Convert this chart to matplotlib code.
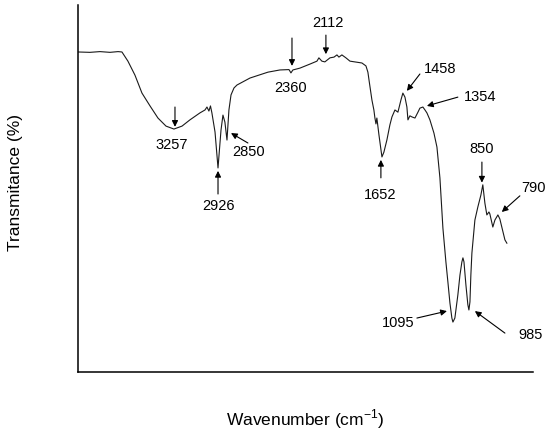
import matplotlib
matplotlib.use('Agg')
from matplotlib import pyplot as plt

# FTIR spectrum
wavenumber = [4000, 3908, 3831, 3754, 3692, 3662, 3616, 3562, 3508, 3446,
              3385, 3323, 3262, 3200, 3139, 3062, 3023, 3008, 2993, 2981,
              2970, 2946, 2923, 2900, 2885, 2870, 2854, 2839, 2823, 2800,
              2777, 2677, 2539, 2447, 2377, 2362, 2347, 2293, 2216, 2162,
              2147, 2124, 2101, 2062, 2031, 2008, 1993, 1970, 1939, 1908,
              1816, 1785, 1770, 1758, 1739, 1724, 1716, 1708, 1701, 1685,
              1662, 1647, 1624, 1601, 1585, 1562, 1539, 1516, 1501, 1485,
              1470, 1462, 1447, 1431, 1408, 1385, 1370, 1347, 1331, 1316,
              1293, 1262, 1239, 1216, 1193, 1170, 1154, 1139, 1124,
              1116, 1101, 1078, 1062, 1047, 1039, 1031, 1016, 1001, 993,
              985, 978, 970, 947, 924, 901, 886, 870, 855, 839,
              832, 816, 809, 793, 770, 755, 740, 716, 701]
transmittance = [87.2, 87.1, 87.3, 87.1, 87.3, 87.2, 84.7, 80.9, 76.0, 72.5,
                 69.2, 67.0, 66.2, 67.0, 68.7, 70.6, 71.4, 72.2, 71.1, 72.5,
                 70.6, 65.4, 55.6, 65.9, 70.0, 68.1, 63.2, 71.4, 75.5, 77.4,
                 78.2, 80.1, 81.7, 82.3, 82.4, 81.5, 82.3, 82.8, 83.9, 84.7,
                 85.6, 84.7, 84.5, 85.6, 85.8, 86.4, 85.8, 86.4, 85.6, 84.7,
                 84.2, 83.4, 81.7, 78.7, 74.1, 71.4, 69.2, 67.6, 69.2, 64.6,
                 58.6, 59.9, 63.2, 67.3, 69.5, 71.4, 70.8, 74.1, 76.0, 74.9,
                 72.2, 68.7, 69.8, 69.5, 69.2, 70.8, 71.9, 72.2, 71.4, 70.6,
                 68.7, 65.1, 61.3, 52.9, 39.2, 30.0, 24.3, 18.8, 14.7,
                 13.6, 14.7, 21.0, 26.4, 30.0, 31.1, 30.0, 23.7, 18.3, 16.9,
                 19.1, 26.4, 32.4, 41.4, 45.0, 48.2, 51.0, 46.0, 42.8, 43.6,
                 43.1, 40.6, 39.5, 41.4, 42.8, 41.7, 39.5, 36.0, 35.1]

# peak labels: text, text position, arrow tail, arrow tip (data units)
peak_labels = ['3257', '2926', '2850', '2360', '2112', '1652',
               '1458', '1354', '1095', '985', '850', '790']
label_pos = [(3277, 61.9), (2923, 45.2), (2690, 60.0), (2362, 77.5),
             (2078, 95.1), (1677, 48.2), (1216, 82.6), (908, 74.9),
             (1539, 13.4), (520, 10.1), (893, 60.8), (500, 50.1)]
arrow_tail = [(3254, 72.2), (2923, 48.5), (2693, 62.4), (2354, 91.0),
              (2093, 91.8), (1670, 52.9), (1370, 81.2), (1078, 74.9),
              (1393, 14.7), (716, 10.6), (893, 57.2), (601, 48.0)]
arrow_tip = [(3254, 66.8), (2923, 54.8), (2823, 65.1), (2354, 83.4),
             (2093, 86.6), (1670, 57.8), (1470, 76.6), (1316, 72.5),
             (1162, 16.6), (947, 16.6), (893, 51.6), (740, 43.6)]


def draw_labels(ax: plt.Axes) -> None:
    for text, pos, tail, tip in zip(peak_labels, label_pos, arrow_tail, arrow_tip):
        ax.annotate('', xy=tip, xytext=tail,
                    arrowprops=dict(arrowstyle='-|>', color='black', lw=0.8,
                                    mutation_scale=9, shrinkA=0, shrinkB=0))
        ax.text(pos[0], pos[1], text, ha='center', va='center', fontsize=10.5)


def main() -> None:
    plt.rcParams['font.family'] = ['Liberation Sans', 'DejaVu Sans']
    plt.rcParams['mathtext.fontset'] = 'custom'
    plt.rcParams['mathtext.rm'] = 'Liberation Sans'
    fig = plt.figure(figsize=(5.5, 4.36), dpi=100)
    ax = fig.add_axes([78 / 550, 1 - 372 / 436, 455 / 550, 367 / 436])
    ax.plot(wavenumber, transmittance, color='#1a1a1a', linewidth=0.8)
    ax.set_xlim(4000, 500)
    ax.set_ylim(0, 100)
    ax.set_xticks([])
    ax.set_yticks([])
    for side in ('top', 'right'):
        ax.spines[side].set_visible(False)
    for side in ('left', 'bottom'):
        ax.spines[side].set_linewidth(1.1)
    ax.set_xlabel(r'Wavenumber (cm$^{-1}$)', fontsize=12.5, va='center')
    ax.xaxis.set_label_coords(0.5, -0.128)
    ax.set_ylabel('Transmitance (%)', fontsize=12.5, va='center')
    ax.yaxis.set_label_coords(-0.138, 0.515)
    draw_labels(ax)
    fig.savefig('out.png', dpi=100)


if __name__ == '__main__':
    main()
